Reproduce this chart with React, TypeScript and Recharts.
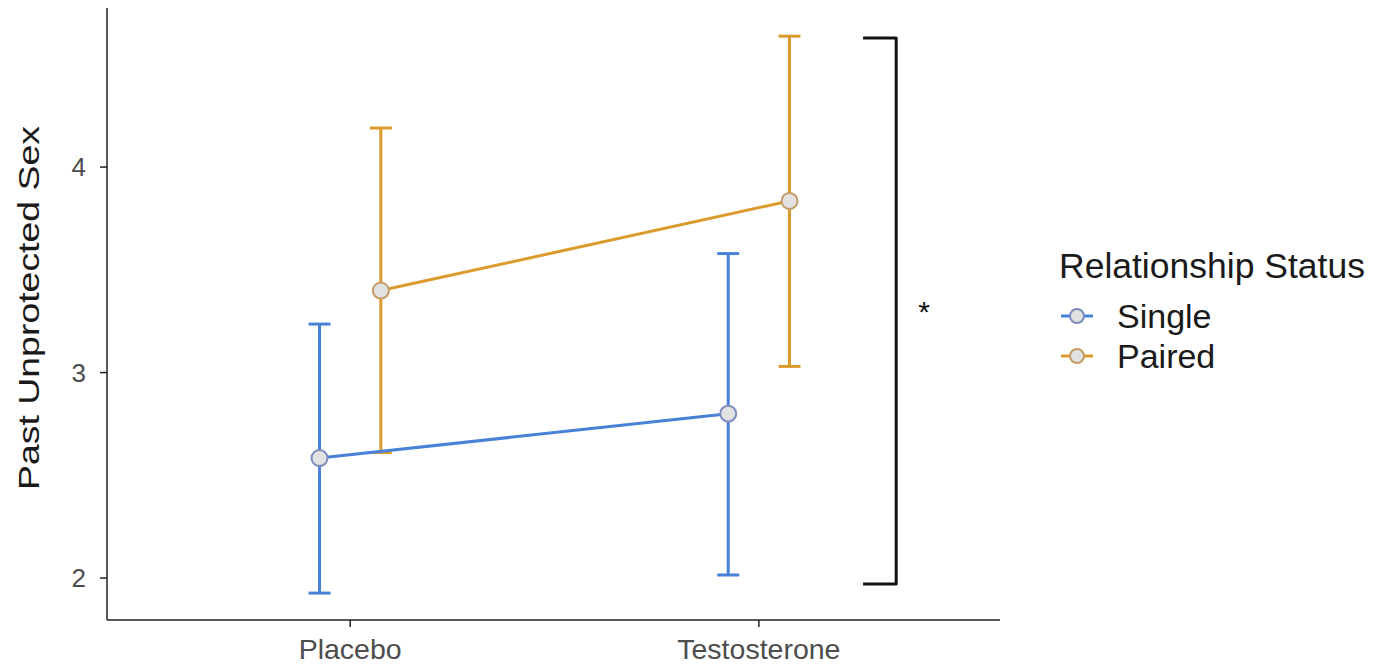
import React from 'react';
import { ComposedChart, Scatter, XAxis, YAxis, ErrorBar } from 'recharts';

// ---- data ----
const conditions = ['Placebo', 'Testosterone'];
const seriesNames = ['Single', 'Paired'];
const singleMean = [2.584, 2.80];
const singleLower = [1.927, 2.015];
const singleUpper = [3.236, 3.579];
const pairedMean = [3.399, 3.835];
const pairedLower = [2.611, 3.03];
const pairedUpper = [4.19, 4.637];
const yTicks = [2, 3, 4];
const yDomain = [1.796, 4.774];
const xDomain = [0.405, 2.59];
const bracketX = [2.255, 2.336];
const bracketY = [4.628, 1.971];
const asteriskPos = { x: 2.404, y: 3.33 };
const asteriskText = '*';
const yTitle = 'Past Unprotected Sex';
const legendTitle = 'Relationship Status';

const DODGE = 0.075;
const BLUE = '#4781d8';
const ORANGE = '#da9a2c';
const BLUE_PT = '#7d8cbf';
const ORANGE_PT = '#c39a66';
const FONT = '"Liberation Sans", Arial, sans-serif';

const build = (mean: number[], lo: number[], hi: number[], offset: number) =>
  mean.map((m, i) => ({
    x: i + 1 + offset,
    y: m,
    err: [m - lo[i], hi[i] - m],
    cond: conditions[i],
  }));

const singleData = build(singleMean, singleLower, singleUpper, -DODGE);
const pairedData = build(pairedMean, pairedLower, pairedUpper, DODGE);
const bracketData = [
  { x: bracketX[0], y: bracketY[0] },
  { x: bracketX[1], y: bracketY[0] },
  { x: bracketX[1], y: bracketY[1] },
  { x: bracketX[0], y: bracketY[1] },
];
const asteriskData = [asteriskPos];

const Empty = () => <g />;

const makePoint = (stroke: string) => (props: any) => (
  <circle cx={props.cx} cy={props.cy} r={8} fill="#e2e2e2" stroke={stroke} strokeWidth={2} />
);

const AsteriskShape = (props: any) => (
  <text x={props.cx} y={props.cy + 17} textAnchor="middle" fontSize={30} fontFamily={FONT} fill="#111">
    {asteriskText}
  </text>
);

const YLabel = () => (
  <text
    transform="translate(31,300) rotate(-90) scale(1.29,1)"
    textAnchor="middle"
    fontSize={29}
    fontFamily={FONT}
    fill="#1a1a1a"
  >
    {yTitle}
  </text>
);

const LegendBox = () => {
  const colors = [BLUE, ORANGE];
  const ptColors = [BLUE_PT, ORANGE_PT];
  return (
    <div style={{ position: 'absolute', left: 1047, top: 238, fontFamily: FONT, color: '#1a1a1a' }}>
      <div style={{ fontSize: 35.5, lineHeight: '40px', whiteSpace: 'nowrap', marginBottom: 10, marginLeft: 4 }}>
        {legendTitle}
      </div>
      {seriesNames.map((n, i) => (
        <div key={n} style={{ display: 'flex', alignItems: 'center', height: 40 }}>
          <svg width={40} height={24} style={{ marginLeft: 4 }}>
            <line x1={2} y1={12} x2={34} y2={12} stroke={colors[i]} strokeWidth={3} />
            <circle cx={18} cy={12} r={7} fill="#e2e2e2" stroke={ptColors[i]} strokeWidth={2} />
          </svg>
          <span style={{ fontSize: 34, lineHeight: '40px', marginLeft: 18 }}>{n}</span>
        </div>
      ))}
    </div>
  );
};

export default function App() {
  return (
    <div style={{ position: 'relative', width: 1358, height: 656, background: '#fff' }}>
      <ComposedChart
        width={1358}
        height={656}
        margin={{ top: 0, right: 366, bottom: 0, left: 0 }}
      >
        <XAxis
          type="number"
          dataKey="x"
          domain={xDomain}
          allowDataOverflow
          ticks={[1, 2]}
          tickFormatter={(v: number) => conditions[Math.round(v) - 1] ?? ''}
          height={44}
          tickSize={7}
          tickMargin={12}
          axisLine={{ stroke: '#222', strokeWidth: 1.5 }}
          tickLine={{ stroke: '#222', strokeWidth: 1.5 }}
          tick={{ fontSize: 28.5, fill: '#4d4d4d', fontFamily: FONT }}
        />
        <YAxis
          type="number"
          dataKey="y"
          domain={yDomain}
          allowDataOverflow
          ticks={yTicks}
          width={99}
          tickSize={7}
          tickMargin={14}
          axisLine={{ stroke: '#222', strokeWidth: 1.5 }}
          tickLine={{ stroke: '#222', strokeWidth: 1.5 }}
          tick={{ fontSize: 26, fill: '#4d4d4d', fontFamily: FONT }}
          label={{ content: () => <YLabel /> }}
        />
        <Scatter data={singleData} shape={Empty} isAnimationActive={false} legendType="none">
          <ErrorBar dataKey="err" direction="y" width={11} stroke={BLUE} strokeWidth={3} isAnimationActive={false} />
        </Scatter>
        <Scatter data={pairedData} shape={Empty} isAnimationActive={false} legendType="none">
          <ErrorBar dataKey="err" direction="y" width={11} stroke={ORANGE} strokeWidth={3} isAnimationActive={false} />
        </Scatter>
        <Scatter
          data={singleData}
          line={{ stroke: BLUE, strokeWidth: 3 }}
          shape={makePoint(BLUE_PT)}
          isAnimationActive={false}
        />
        <Scatter
          data={pairedData}
          line={{ stroke: ORANGE, strokeWidth: 3 }}
          shape={makePoint(ORANGE_PT)}
          isAnimationActive={false}
        />
        <Scatter
          data={bracketData}
          line={{ stroke: '#111', strokeWidth: 3, strokeLinejoin: 'round' }}
          shape={Empty}
          isAnimationActive={false}
        />
        <Scatter data={asteriskData} shape={AsteriskShape} isAnimationActive={false} />
      </ComposedChart>
      <LegendBox />
    </div>
  );
}
